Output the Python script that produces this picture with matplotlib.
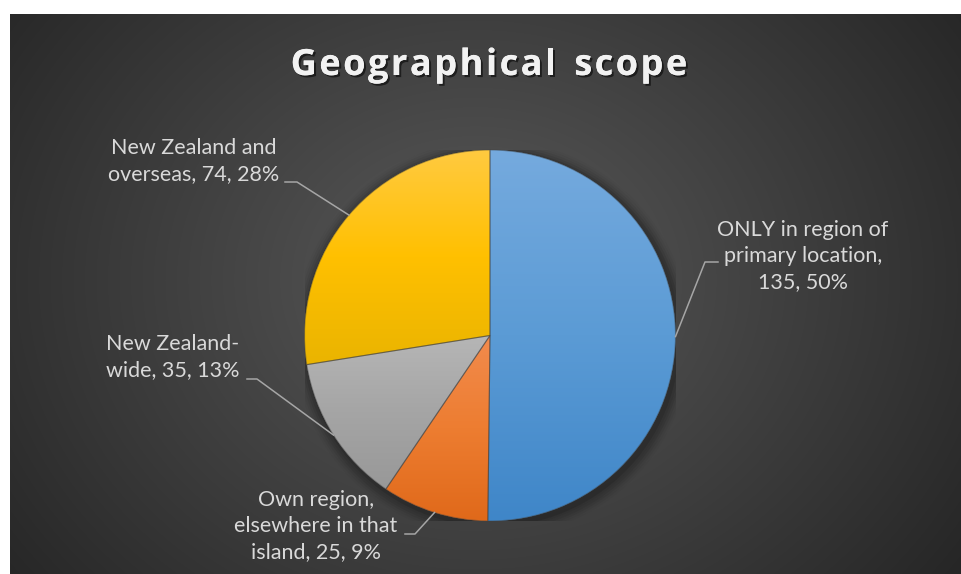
import numpy as np
import matplotlib
matplotlib.use("Agg")
import matplotlib.pyplot as plt
from matplotlib.colors import LinearSegmentedColormap
from matplotlib.patches import Circle
import matplotlib.patheffects as pe

# Data
categories = ["ONLY in region of\nprimary location",
              "Own region,\nelsewhere in that\nisland",
              "New Zealand-\nwide",
              "New Zealand and\noverseas"]
values = [135, 25, 35, 74]
# separator between the category name and its value in the data label
label_seps = [",\n", ", ", ", ", ", "]
# (top, middle, bottom) shades of each slice's gradient fill
slice_colors = [("#75aade", "#5b9bd5", "#3f86c8"),
                ("#f28b4d", "#ed7d31", "#e0691a"),
                ("#b6b6b6", "#a5a5a5", "#989898"),
                ("#ffca40", "#ffc000", "#eab400")]
title = "Geographical scope"

W, H = 961, 574
fig = plt.figure(figsize=(W / 100, H / 100), dpi=100, facecolor="white")


def px(x, y):
    """Convert pixel coords (origin top-left) to figure fraction."""
    return x / W, 1 - y / H


# Chart area with radial gradient background
left, top = 10, 14
bg = fig.add_axes([left / W, 0, (W - left) / W, (H - top) / H])
bg.set_axis_off()
gh, gw = H - top, W - left
yy, xx = np.mgrid[0:gh, 0:gw]
cx, cy = 475 - left, 280 - top
r = np.sqrt(((xx - cx) / 620.0) ** 2 + ((yy - cy) / 520.0) ** 2)
r = np.clip(r, 0, 1)
inner, outer = 0x5a / 255, 0x24 / 255
val = inner + (outer - inner) * r
bg.imshow(np.dstack([val, val, val]), aspect="auto", interpolation="bilinear",
          extent=(0, gw, gh, 0))
bg.set_xlim(0, gw)
bg.set_ylim(gh, 0)

# Pie axes
pcx, pcy, R = 490, 335.5, 185.5
ax = fig.add_axes([(pcx - R) / W, (H - pcy - R) / H, 2 * R / W, 2 * R / H])
ax.set_axis_off()

# soft shadow behind the pie
for k, a in enumerate(np.linspace(0.10, 0.02, 6)):
    ax.add_patch(Circle((0.012, -0.018), 1.0 + 0.012 * (k + 1), color="black",
                        alpha=a, lw=0, zorder=0))

wedges, _ = ax.pie(values, colors=[c[1] for c in slice_colors], startangle=90,
                   counterclock=False, radius=1, center=(0, 0),
                   wedgeprops=dict(linewidth=0, zorder=1))

# vertical gradient inside each slice
for w, (ctop, cmid, cbot) in zip(wedges, slice_colors):
    ext = w.get_path().get_extents()
    cmap = LinearSegmentedColormap.from_list("g", [cbot, cmid, ctop])
    grad = np.linspace(0, 1, 256).reshape(-1, 1)
    im = ax.imshow(grad, cmap=cmap, origin="lower", aspect="auto",
                   extent=(ext.x0, ext.x1, ext.y0, ext.y1), zorder=2,
                   interpolation="bilinear")
    im.set_clip_path(w)

ax.pie(values, startangle=90, counterclock=False, radius=1, center=(0, 0),
       wedgeprops=dict(fill=False, edgecolor=(0.25, 0.25, 0.25, 0.45),
                       linewidth=0.8, zorder=3))
ax.set_xlim(-1, 1)
ax.set_ylim(-1, 1)
ax.set_aspect("auto")

# Data labels with leader lines
total = sum(values)
label_font = dict(family="Lato", fontsize=15.5, color="#d9d9d9",
                  linespacing=1.38)
label_pos = [(803, 256), (316, 526), (173, 357), (194, 161)]
elbows = [[(705, 262), (718, 262)],
          [(415, 534), (405, 534)],
          [(257, 379), (247, 379)],
          [(297, 182), (285, 182)]]

cum = 0
for cat, v, sep, (lx, ly), elb in zip(categories, values, label_seps,
                                      label_pos, elbows):
    mid = cum + v / 2
    cum += v
    ang = np.deg2rad(90 - 360 * mid / total)
    sx, sy = pcx + R * np.cos(ang), pcy - R * np.sin(ang)
    pts = [(sx, sy)] + elb
    xs = [px(*p)[0] for p in pts]
    ys = [px(*p)[1] for p in pts]
    fig.add_artist(plt.Line2D(xs, ys, color="#a6a6a6", lw=1.1,
                              transform=fig.transFigure, zorder=5))
    pct = round(100 * v / total)
    fig.text(*px(lx, ly), f"{cat}{sep}{v}, {pct}%", ha="center", va="center",
             multialignment="center", **label_font)

# Title, drawn letter by letter with extra tracking
title_font = dict(family="Open Sans", fontweight="bold", fontsize=26,
                  color="#f2f2f2")
shadow = [pe.withSimplePatchShadow(offset=(1.5, -1.5), shadow_rgbFace="black",
                                   alpha=0.55), pe.Normal()]
renderer = fig.canvas.get_renderer()
widths = []
for ch in title:
    t = fig.text(0, 0, ch if ch != " " else "n", **title_font)
    wpx = t.get_window_extent(renderer).width
    widths.append(wpx * (0.55 if ch == " " else 1.0))
    t.remove()
tracking = 2.5
total_w = sum(widths) + tracking * (len(title) - 1)
x = 489 - total_w / 2
for ch, wpx in zip(title, widths):
    if ch != " ":
        fig.text(*px(x, 75), ch, ha="left", va="baseline",
                 path_effects=shadow, **title_font)
    x += wpx + tracking

fig.savefig("out.png", dpi=100, facecolor="white")
